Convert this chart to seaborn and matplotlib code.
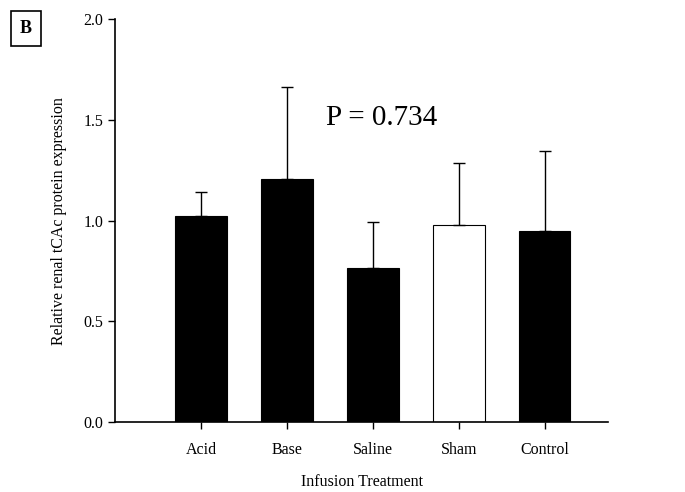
import numpy as np
import pandas as pd
import matplotlib
matplotlib.use("Agg")
import matplotlib.pyplot as plt
import seaborn as sns

# Data
treatments = ["Acid", "Base", "Saline", "Sham", "Control"]
expression = [1.024, 1.206, 0.766, 0.978, 0.951]
sem = [0.119, 0.457, 0.225, 0.307, 0.394]
bar_colors = ["black", "black", "black", "white", "black"]
p_text = "P = 0.734"

df = pd.DataFrame({"Treatment": treatments, "Expression": expression})

sns.set_style("ticks")
plt.rcParams["font.family"] = ["Liberation Serif", "DejaVu Serif"]
plt.rcParams["text.color"] = "black"
plt.rcParams["axes.labelcolor"] = "black"

fig = plt.figure(figsize=(6.85, 4.92), dpi=100)
ax = fig.add_axes([0.168, 0.142, 0.72, 0.819])

sns.barplot(data=df, x="Treatment", y="Expression", hue="Treatment",
            palette=bar_colors, legend=False, width=0.6,
            edgecolor="black", linewidth=0.8, ax=ax)

# upper error bars only
xpos = np.arange(len(treatments))
ax.errorbar(xpos, expression, yerr=[np.zeros(len(sem)), sem], fmt="none",
            ecolor="black", elinewidth=1.0, capsize=4.5, capthick=1.0)

ax.set_xlim(-1.0, 4.74)
ax.set_ylim(0, 2.0)
ax.set_yticks([0.0, 0.5, 1.0, 1.5, 2.0])
ax.set_yticklabels(["0.0", "0.5", "1.0", "1.5", "2.0"])
ax.tick_params(axis="both", direction="out", length=5, width=1, labelsize=11.5,
               colors="black", labelcolor="black")
ax.tick_params(axis="x", pad=9)

sns.despine(ax=ax)
for s in ["left", "bottom"]:
    ax.spines[s].set_linewidth(1.2)
    ax.spines[s].set_color("black")

ax.set_xlabel("Infusion Treatment", fontsize=11.5, labelpad=12, color="black")
ax.set_ylabel("Relative renal tCAc protein expression", fontsize=11.5, labelpad=12, color="black")

ax.text(1.45, 1.51, p_text, fontsize=21, ha="left", va="center", color="black")

fig.text(0.038, 0.942, "B", fontsize=13, fontweight="bold", ha="center", va="center", color="black",
         bbox=dict(boxstyle="square,pad=0.5", facecolor="white", edgecolor="black", linewidth=1.2))

fig.savefig("out.png", dpi=100)
